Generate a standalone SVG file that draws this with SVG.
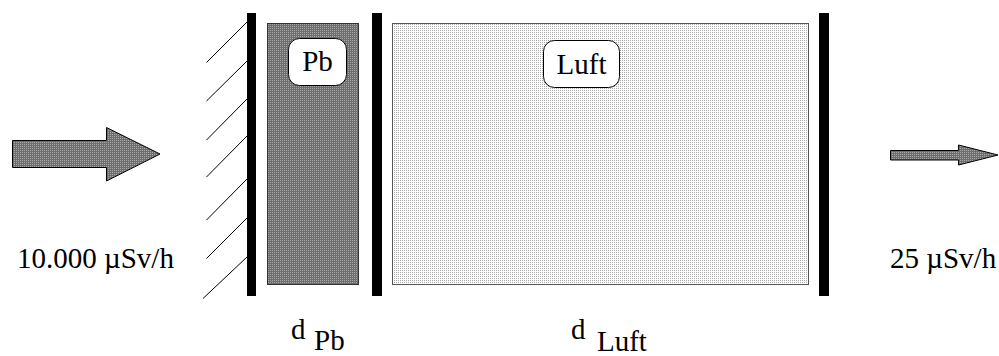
<svg xmlns="http://www.w3.org/2000/svg" width="999" height="356" viewBox="0 0 999 356">
<defs>
<pattern id="dark" width="2" height="2" patternUnits="userSpaceOnUse"><rect width="2" height="2" fill="#6e6e6e"/><rect width="1" height="1" fill="#a8a8a8"/></pattern>
<pattern id="light" width="2" height="2" patternUnits="userSpaceOnUse"><rect width="2" height="2" fill="#ffffff"/><rect width="1" height="1" fill="#a8a8a8"/></pattern>
</defs>
<style>
text{font-family:"Liberation Serif","Times New Roman",serif;font-size:29px;fill:#000}
.bar{fill:#000}
.hatch{stroke:#000;stroke-width:1;fill:none}
.lbl{fill:#fff;stroke:#000;stroke-width:1}
.arrow{fill:url(#dark);stroke:#000;stroke-width:1}
</style>
<rect width="999" height="356" fill="#fff"/>
<g id="wall-left">
<line class="hatch" x1="206.5" y1="62.5" x2="247" y2="22"/>
<line class="hatch" x1="206.5" y1="101" x2="247" y2="61"/>
<line class="hatch" x1="206.5" y1="140" x2="247" y2="99"/>
<line class="hatch" x1="206.5" y1="177" x2="247" y2="136"/>
<line class="hatch" x1="206.5" y1="220" x2="247" y2="179"/>
<line class="hatch" x1="206.5" y1="258.5" x2="247" y2="218"/>
<line class="hatch" x1="203" y1="298.5" x2="247" y2="257"/>
<rect class="bar" x="247" y="13" width="9" height="283"/>
</g>
<g id="pb">
<rect x="267.5" y="23.5" width="91" height="261" fill="url(#dark)" stroke="#333" stroke-width="1"/>
<rect class="lbl" x="288.5" y="38.5" width="58" height="47" rx="11"/>
<text x="317.5" y="71" text-anchor="middle">Pb</text>
</g>
<g id="wall-middle"><rect class="bar" x="372" y="13" width="10" height="283"/></g>
<g id="luft">
<rect x="392.5" y="23.5" width="416" height="261" fill="url(#light)" stroke="#555" stroke-width="1"/>
<rect class="lbl" x="543.5" y="40.5" width="76" height="47" rx="11"/>
<text x="581.5" y="74" text-anchor="middle">Luft</text>
</g>
<g id="wall-right"><rect class="bar" x="819" y="13" width="10" height="283"/></g>
<g id="connectors">
<polygon class="arrow" points="12.5,140.5 106.5,140.5 106.5,127.5 160,154 106.5,181 106.5,167.5 12.5,167.5"/>
<polygon class="arrow" points="890.5,150.5 958.5,150.5 958.5,145 998,155 958.5,165 958.5,160 890.5,160"/>
</g>
<g id="labels">
<text x="17" y="268">10.000 µSv/h</text>
<text x="890" y="268">25 µSv/h</text>
<text x="291" y="339">d<tspan x="314" y="350">Pb</tspan></text>
<text x="571" y="339">d<tspan x="597" y="351">Luft</tspan></text>
</g>
</svg>
